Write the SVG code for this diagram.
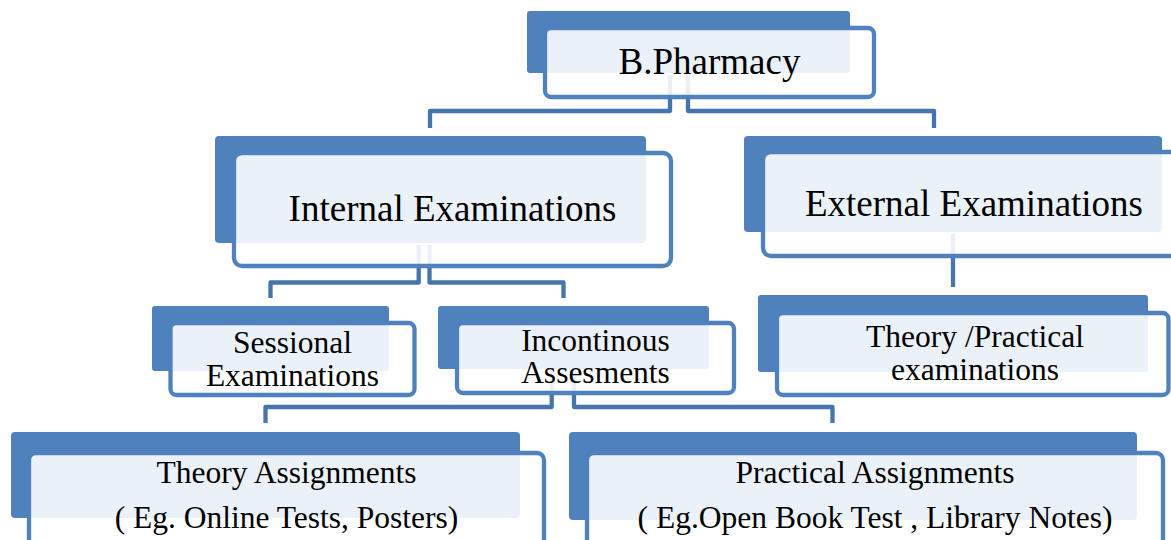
<svg xmlns="http://www.w3.org/2000/svg" width="1171" height="540" viewBox="0 0 1171 540">
  <style>
    .back { fill: #4F81BD; }
    .front { fill: #FFFFFF; fill-opacity: 0.89; stroke: #4F81BD; stroke-width: 4.3; }
    .link { fill: none; stroke: #4674AC; stroke-width: 4.3; stroke-linejoin: round; }
    .big { font-family: "Liberation Serif", "Times New Roman", serif; font-size: 37px; fill: #000; text-anchor: middle; }
    .small { font-family: "Liberation Serif", "Times New Roman", serif; font-size: 31.5px; fill: #000; text-anchor: middle; }
  </style>
  <rect width="1171" height="540" fill="#FFFFFF"/>

  <!-- connectors (drawn under the boxes) -->
  <g id="connectors">
    <path class="link" d="M670,75 V111 H430 V128"/>
    <path class="link" d="M688,75 V111 H934 V128"/>
    <path class="link" d="M418.7,245 V282.5 H270.5 V298"/>
    <path class="link" d="M429.5,245 V282.5 H563.5 V298"/>
    <path class="link" d="M953,234 V287"/>
    <path class="link" d="M551.7,371 V407 H265.5 V423"/>
    <path class="link" d="M574,371 V407 H832.5 V423"/>
  </g>

  <g id="bpharmacy">
    <rect class="back" x="527" y="11" width="323" height="62" rx="3"/>
    <rect class="front" x="545" y="28" width="329" height="69" rx="6"/>
    <text class="big" x="709.5" y="74">B.Pharmacy</text>
  </g>

  <g id="internal">
    <rect class="back" x="215" y="136" width="431" height="107" rx="4"/>
    <rect class="front" x="234" y="153" width="437" height="113" rx="8"/>
    <text class="big" x="452.5" y="221">Internal Examinations</text>
  </g>

  <g id="external">
    <rect class="back" x="744" y="136" width="418" height="96" rx="4"/>
    <rect class="front" x="763" y="152" width="422" height="104" rx="8"/>
    <text class="big" x="974" y="216">External Examinations</text>
  </g>

  <g id="sessional">
    <rect class="back" x="152" y="306" width="237" height="65" rx="3"/>
    <rect class="front" x="170.5" y="323" width="244" height="72" rx="6"/>
    <text class="small" x="292.5" y="352.7">Sessional</text>
    <text class="small" x="292.5" y="385.7">Examinations</text>
  </g>

  <g id="incontinous">
    <rect class="back" x="438" y="306" width="271" height="63" rx="3"/>
    <rect class="front" x="457" y="323" width="277" height="70" rx="6"/>
    <text class="small" x="595.5" y="351">Incontinous</text>
    <text class="small" x="595.5" y="383.3">Assesments</text>
  </g>

  <g id="theory-practical">
    <rect class="back" x="758" y="295" width="390" height="77" rx="3"/>
    <rect class="front" x="777" y="313" width="391.5" height="82" rx="6"/>
    <text class="small" x="975" y="346.7">Theory /Practical</text>
    <text class="small" x="975" y="380">examinations</text>
  </g>

  <g id="theory-assignments">
    <rect class="back" x="11" y="432" width="509" height="86" rx="4"/>
    <rect class="front" x="29" y="453" width="515" height="100" rx="7"/>
    <text class="small" x="286.5" y="483">Theory Assignments</text>
    <text class="small" x="286.5" y="528">( Eg. Online Tests, Posters)</text>
  </g>

  <g id="practical-assignments">
    <rect class="back" x="569" y="432" width="568" height="88" rx="4"/>
    <rect class="front" x="587" y="453" width="576" height="100" rx="7"/>
    <text class="small" x="875" y="483">Practical Assignments</text>
    <text class="small" x="875" y="528">( Eg.Open Book Test , Library Notes)</text>
  </g>
</svg>
